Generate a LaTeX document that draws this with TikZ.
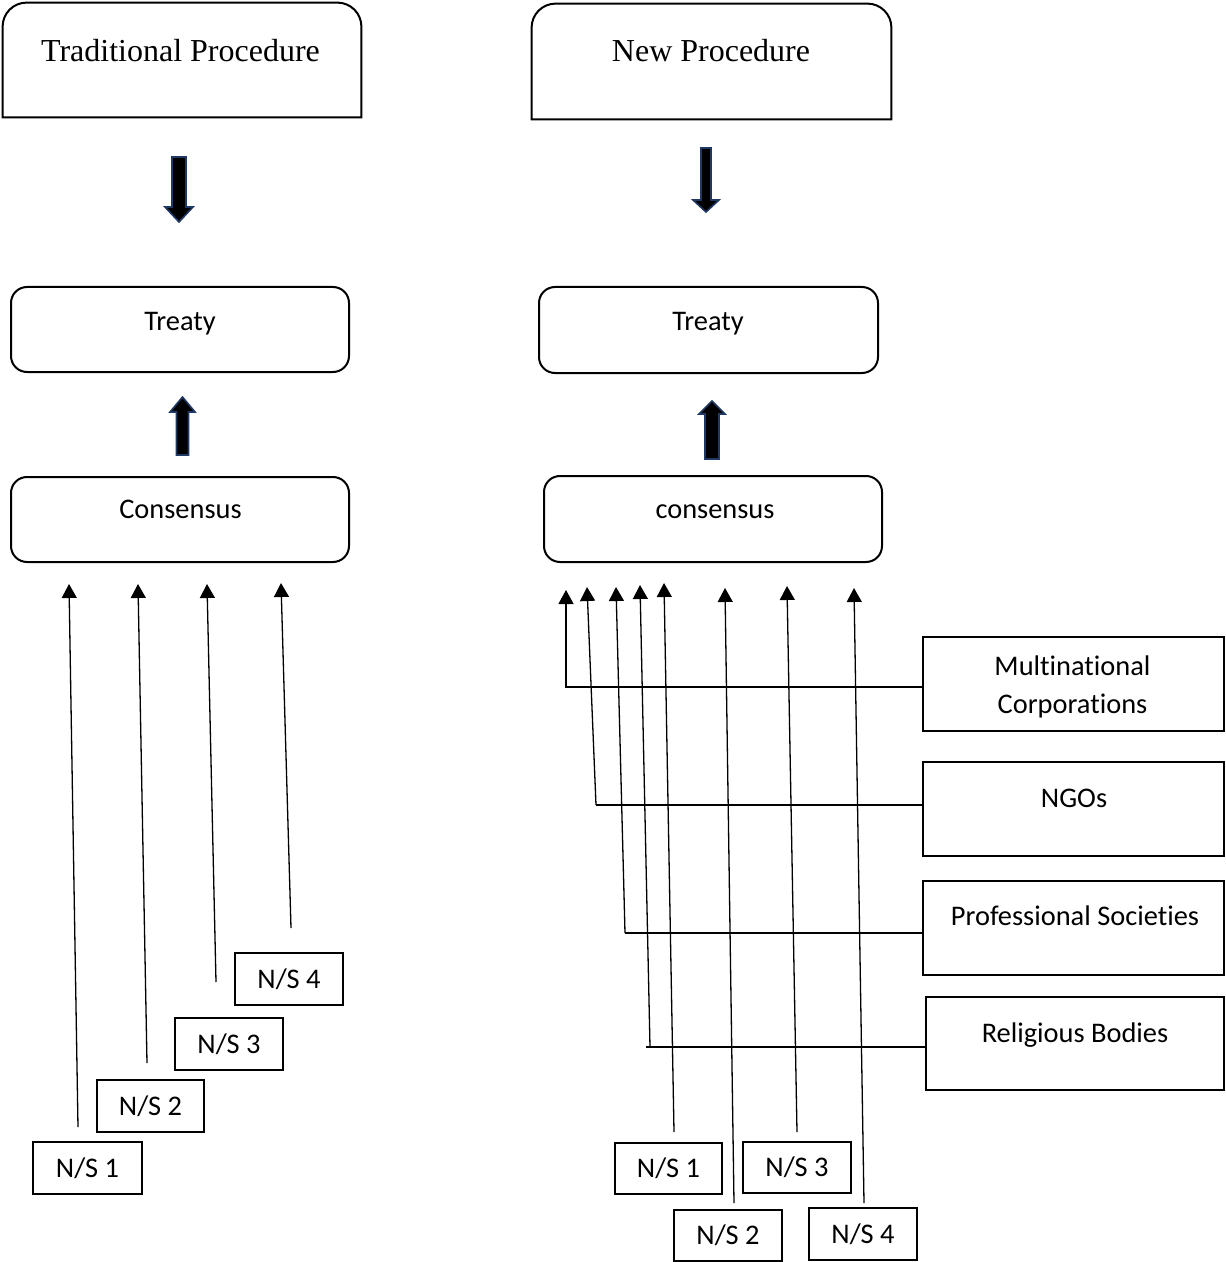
\documentclass[tikz,border=0pt]{standalone}
\usepackage{fontspec}
\setmainfont[Ligatures=NoCommon]{Carlito}
\newfontfamily\titlefont{Liberation Serif}
\usetikzlibrary{arrows.meta}
\definecolor{navy}{HTML}{203864}
\begin{document}
\begin{tikzpicture}[x=0.5pt,y=-0.5pt,
  box/.style={draw, line width=1pt, inner sep=0pt},
  rbox/.style={box, rounded corners=8pt},
  hold/.style={inner sep=0pt},
  txt/.style={font=\fontsize{14.2}{17.5}\selectfont, inner sep=0pt, anchor=base},
  nstxt/.style={box, font=\fontsize{14.2}{17.5}\selectfont, minimum height=26pt},
  ttl/.style={font=\titlefont\fontsize{16}{19}\selectfont, inner sep=0pt, anchor=base},
  conn/.style={line width=0.65pt},
  arr/.style={conn, -{Triangle[width=7.5pt,length=7pt]}},
  blk/.style={fill=black, draw=navy, line width=0.8pt, line join=miter}]
\useasboundingbox (0,0) rectangle (1225,1262);

% ---- title boxes (top corners rounded)
\node[hold, minimum width=179pt, minimum height=57pt] (tp) at (182,60) {};
\draw[line width=1pt] (tp.south west) -- ([yshift=-12pt]tp.north west)
  arc[start angle=180,end angle=90,radius=12pt] -- ([xshift=-12pt]tp.north east)
  arc[start angle=90,end angle=0,radius=12pt] -- (tp.south east) -- cycle;
\node[ttl] (tpt) at (180.5,62) {Traditional Procedure};

\node[hold, minimum width=179.5pt, minimum height=57.5pt] (np) at (711.5,61.5) {};
\draw[line width=1pt] (np.south west) -- ([yshift=-12pt]np.north west)
  arc[start angle=180,end angle=90,radius=12pt] -- ([xshift=-12pt]np.north east)
  arc[start angle=90,end angle=0,radius=12pt] -- (np.south east) -- cycle;
\node[ttl] (npt) at (711,62) {New Procedure};

% ---- block arrows
\draw[blk] (172,157) -- (186,157) -- (186,207) -- (193,207) -- (179,222) -- (165,207) -- (172,207) -- cycle;
\draw[blk] (701,148) -- (711,148) -- (711,200) -- (719,200) -- (706,212) -- (693,200) -- (701,200) -- cycle;
\draw[blk] (176.5,455) -- (188.5,455) -- (188.5,412) -- (195,412) -- (182.5,397) -- (170,412) -- (176.5,412) -- cycle;
\draw[blk] (705,459) -- (719,459) -- (719,414) -- (725,414) -- (712,401) -- (699,414) -- (705,414) -- cycle;

% ---- treaty / consensus
\node[rbox, minimum width=169pt, minimum height=42.5pt] (tl) at (180,329.5) {};
\node[txt] (tlt) at (180,330) {Treaty};
\node[rbox, minimum width=169pt, minimum height=42.5pt] (cl) at (180,519.5) {};
\node[txt] (clt) at (180.5,518) {Consensus};
\node[rbox, minimum width=169.5pt, minimum height=43pt] (tr) at (708.5,330) {};
\node[txt] (trt) at (708,330) {Treaty};
\node[rbox, minimum width=169pt, minimum height=43pt] (cr) at (713,519) {};
\node[txt] (crt) at (715,518) {consensus};

% ---- side boxes
\node[box, minimum width=150.5pt, minimum height=47pt] (mnc) at (1073.5,684) {};
\node[txt] (mnct1) at (1072.5,675) {Multinational};
\node[txt] (mnct2) at (1072.5,713) {Corporations};
\node[box, minimum width=150.5pt, minimum height=47pt] (ngo) at (1073.5,809) {};
\node[txt] (ngot) at (1074,807) {NGOs};
\node[box, minimum width=150.5pt, minimum height=47pt] (prof) at (1073.5,928) {};
\node[txt] (proft) at (1075,925) {Professional Societies};
\node[box, minimum width=149pt, minimum height=46.5pt] (rel) at (1075,1043.5) {};
\node[txt] (relt) at (1075,1042) {Religious Bodies};

% ---- N/S boxes left
\node[nstxt, minimum width=54.5pt] (ns1l) at (87.5,1168) {N/S 1};
\node[nstxt, minimum width=53.5pt] (ns2l) at (150.5,1106) {N/S 2};
\node[nstxt, minimum width=54pt] (ns3l) at (229,1044) {N/S 3};
\node[nstxt, minimum width=54pt] (ns4l) at (289,979) {N/S 4};

% ---- N/S boxes right
\node[nstxt, minimum width=53.5pt, minimum height=25.5pt] (ns1r) at (668.5,1168.5) {N/S 1};
\node[nstxt, minimum width=54pt, minimum height=25.5pt] (ns3r) at (797,1167.5) {N/S 3};
\node[nstxt, minimum width=54pt, minimum height=25.5pt] (ns2r) at (728,1235.5) {N/S 2};
\node[nstxt, minimum width=54pt, minimum height=26pt] (ns4r) at (863,1234) {N/S 4};

% ---- left connectors
\coordinate (l1s) at (78,1127);  \coordinate (l1e) at (69,584);
\coordinate (l2s) at (147,1063); \coordinate (l2e) at (138,584);
\coordinate (l3s) at (216,982);  \coordinate (l3e) at (207,584);
\coordinate (l4s) at (291,928);  \coordinate (l4e) at (281,583);
\draw[arr] (l1s) -- (l1e);
\draw[arr] (l2s) -- (l2e);
\draw[arr] (l3s) -- (l3e);
\draw[arr] (l4s) -- (l4e);

% ---- right connectors
\coordinate (c1) at (566,687);  \coordinate (t1) at (566,590);
\coordinate (c2) at (596,805);  \coordinate (t2) at (587,587);
\coordinate (c3) at (625,933);  \coordinate (t3) at (616,587);
\coordinate (c4) at (650,1047); \coordinate (c4h) at (646,1047); \coordinate (t4) at (640,585);
\draw[arr] (mnc.west |- c1) -- (c1) -- (t1);
\draw[conn] (ngo.west |- c2) -- (c2);
\draw[arr] (c2) -- (t2);
\draw[conn] (prof.west |- c3) -- (c3);
\draw[arr] (c3) -- (t3);
\draw[conn] (rel.west |- c4) -- (c4h);
\draw[arr] (c4) -- (t4);

\coordinate (r5s) at (674,1132); \coordinate (r5e) at (664,583);
\coordinate (r6s) at (734,1203); \coordinate (r6e) at (725,588);
\coordinate (r7s) at (797,1132); \coordinate (r7e) at (787,586);
\coordinate (r8s) at (864,1203); \coordinate (r8e) at (854,588);
\draw[arr] (r5s) -- (r5e);
\draw[arr] (r6s) -- (r6e);
\draw[arr] (r7s) -- (r7e);
\draw[arr] (r8s) -- (r8e);
\end{tikzpicture}
\end{document}
